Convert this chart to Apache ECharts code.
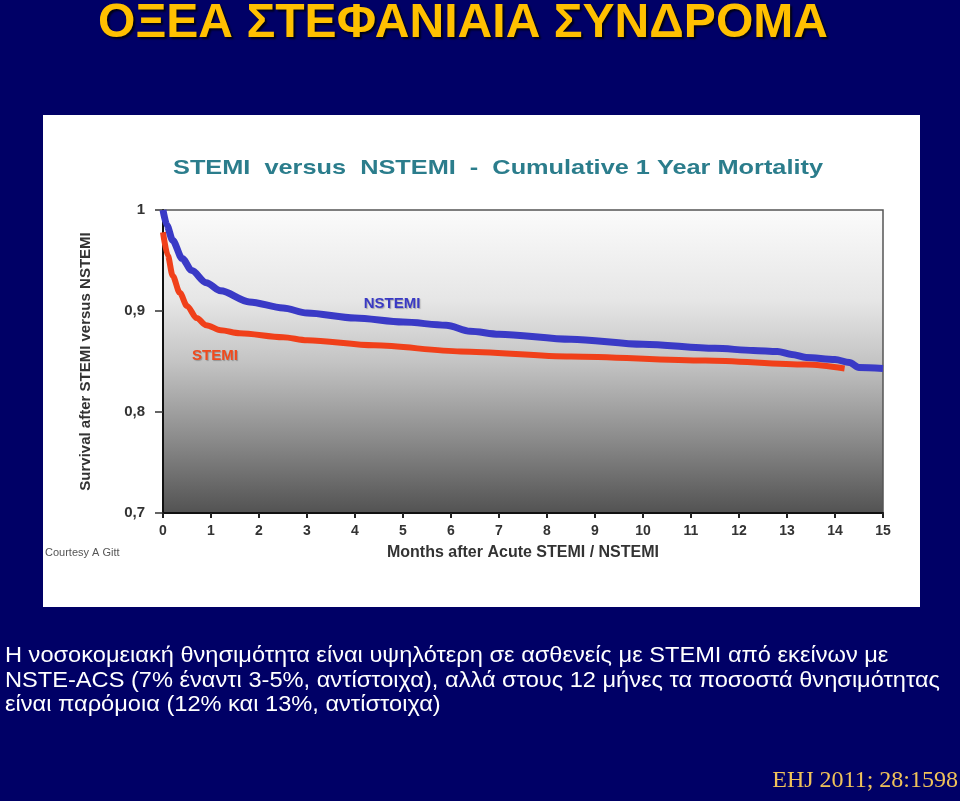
<!DOCTYPE html>
<html>
<head>
<meta charset="utf-8">
<script src="https://cdn.jsdelivr.net/npm/echarts@6/dist/echarts.min.js"></script>
<style>html,body{margin:0;padding:0;background:#000066;}#c{width:960px;height:801px;}</style>
</head>
<body>
<div id="c"></div>
<script>
// ---- data ----
const nstemiMonths   = [0, 0.08, 0.2, 0.4, 0.6, 0.9, 1.2, 1.8, 2.5, 3.0, 4.0, 5.0, 5.9, 6.4, 7.0, 8.5, 10.0, 11.5, 12.3, 12.8, 13.1, 13.4, 14.0, 14.3, 14.5, 15.0];
const nstemiSurvival = [1.0, 0.985, 0.970, 0.952, 0.940, 0.928, 0.920, 0.909, 0.903, 0.898, 0.893, 0.889, 0.886, 0.880, 0.877, 0.872, 0.867, 0.863, 0.861, 0.860, 0.857, 0.854, 0.852, 0.849, 0.844, 0.843];
const stemiMonths    = [0, 0.1, 0.2, 0.35, 0.5, 0.7, 0.9, 1.2, 1.6, 2.5, 3.0, 4.4, 6.2, 8.5, 11.3, 13.4, 14.2];
const stemiSurvival  = [0.978, 0.955, 0.935, 0.918, 0.905, 0.893, 0.886, 0.881, 0.878, 0.874, 0.871, 0.866, 0.860, 0.855, 0.851, 0.847, 0.843];

const slideTitle = 'ΟΞΕΑ ΣΤΕΦΑΝΙΑΙΑ ΣΥΝΔΡΟΜΑ';
const chartTitle = 'STEMI  versus  NSTEMI  -  Cumulative 1 Year Mortality';
const yAxisName = 'Survival after STEMI versus NSTEMI';
const xAxisName = 'Months after Acute STEMI / NSTEMI';
const courtesy = 'Courtesy A Gitt';
const bodyLines = [
  'Η νοσοκομειακή θνησιμότητα είναι υψηλότερη σε ασθενείς με STEMI από εκείνων με',
  'NSTE-ACS (7% έναντι 3-5%, αντίστοιχα), αλλά στους 12 μήνες τα ποσοστά θνησιμότητας',
  'είναι παρόμοια (12% και 13%, αντίστοιχα)'
];
const citation = 'EHJ 2011; 28:1598';

const ctx = document.createElement('canvas').getContext('2d');
function measure(text, font){ ctx.font = font; return ctx.measureText(text).width; }

const titleFont = 'bold 48px "Liberation Sans", Arial, sans-serif';
const titleScale = 730 / measure(slideTitle, titleFont);
const chartTitleFont = 'bold 21px "Liberation Sans", Arial, sans-serif';
const chartTitleScale = 650 / measure(chartTitle, chartTitleFont);
const bodyFont = '22px "Liberation Sans", Arial, sans-serif';
const bodyScale = 935 / measure(bodyLines[1], bodyFont);

const zip = (xs, ys) => xs.map((x, i) => [x, ys[i]]);

const chart = echarts.init(document.getElementById('c'), null, {renderer: 'canvas'});

const graphics = [
  {type: 'rect', z: -10, shape: {x: 43, y: 115, width: 877, height: 492}, style: {fill: '#ffffff'}},
  {type: 'text', x: 98, y: 24, scaleX: titleScale, style: {text: slideTitle, font: titleFont, fill: '#ffc000', verticalAlign: 'middle', textAlign: 'left', textShadowColor: 'rgba(0,0,0,0.8)', textShadowOffsetX: 2, textShadowOffsetY: 2, textShadowBlur: 2}},
  {type: 'text', x: 173, y: 168, scaleX: chartTitleScale, style: {text: chartTitle, font: chartTitleFont, fill: '#2b7d8c', verticalAlign: 'middle', textAlign: 'left'}},
  {type: 'text', x: 45, y: 553, style: {text: courtesy, font: '11px "Liberation Sans", Arial, sans-serif', fill: '#555555', verticalAlign: 'middle'}},
  {type: 'text', x: 392, y: 304, style: {text: 'NSTEMI', font: 'bold 15px "Liberation Sans", Arial, sans-serif', fill: '#3a3ac4', textAlign: 'center', verticalAlign: 'middle', textShadowColor: 'rgba(0,0,0,0.25)', textShadowOffsetX: 1, textShadowOffsetY: 1, textShadowBlur: 1}},
  {type: 'text', x: 215, y: 356, style: {text: 'STEMI', font: 'bold 15px "Liberation Sans", Arial, sans-serif', fill: '#f04a1e', textAlign: 'center', verticalAlign: 'middle', textShadowColor: 'rgba(0,0,0,0.25)', textShadowOffsetX: 1, textShadowOffsetY: 1, textShadowBlur: 1}},
  {type: 'text', right: 2, top: 769, style: {text: citation, font: '24px "Liberation Serif", "Times New Roman", serif', fill: '#efc25a'}}
];
bodyLines.forEach((line, i) => {
  graphics.push({type: 'text', x: 5, y: 656 + i * 24.5, scaleX: bodyScale, style: {text: line, font: bodyFont, fill: '#ffffff', verticalAlign: 'middle', textAlign: 'left'}});
});

chart.setOption({
  backgroundColor: '#000066',
  animation: false,
  graphic: graphics,
  grid: {
    left: 163, top: 210, width: 720, height: 303,
    show: true,
    borderColor: '#555555', borderWidth: 1.5,
    backgroundColor: {type: 'linear', x: 0, y: 0, x2: 0, y2: 1, colorStops: [
      {offset: 0, color: '#fbfbfb'}, {offset: 0.3, color: '#e6e6e6'}, {offset: 0.5, color: '#c4c4c4'},
      {offset: 0.75, color: '#8c8c8c'}, {offset: 1, color: '#525252'}]}
  },
  xAxis: {
    type: 'value', min: 0, max: 15, interval: 1,
    name: xAxisName, nameLocation: 'middle', nameGap: 32,
    nameTextStyle: {color: '#333333', fontSize: 16, fontWeight: 'bold', fontFamily: '"Liberation Sans", Arial, sans-serif'},
    axisLine: {lineStyle: {color: '#111111', width: 2}},
    axisTick: {show: true, length: 5, lineStyle: {color: '#222222', width: 2}},
    axisLabel: {color: '#333333', fontSize: 14, fontWeight: 'bold', margin: 11, fontFamily: '"Liberation Sans", Arial, sans-serif'},
    splitLine: {show: false}
  },
  yAxis: {
    type: 'value', min: 0.7, max: 1, interval: 0.1,
    name: yAxisName, nameLocation: 'middle', nameGap: 70, nameRotate: 90,
    nameTextStyle: {color: '#333333', fontSize: 15, fontWeight: 'bold', fontFamily: '"Liberation Sans", Arial, sans-serif'},
    axisLine: {show: true, lineStyle: {color: '#111111', width: 2}},
    axisTick: {show: true, length: 8, lineStyle: {color: '#333333', width: 1.5}},
    axisLabel: {color: '#333333', fontSize: 15, fontWeight: 'bold', margin: 18, fontFamily: '"Liberation Sans", Arial, sans-serif',
      formatter: v => Math.abs(v - 1) < 1e-9 ? '1' : v.toFixed(1).replace('.', ',')},
    splitLine: {show: false}
  },
  series: [
    {name: 'STEMI', type: 'line', data: zip(stemiMonths, stemiSurvival), showSymbol: false, smooth: 0.3, smoothMonotone: 'x',
     lineStyle: {color: '#f0401a', width: 6}, z: 3},
    {name: 'NSTEMI', type: 'line', data: zip(nstemiMonths, nstemiSurvival), showSymbol: false, smooth: 0.3, smoothMonotone: 'x',
     lineStyle: {color: '#3a3ac6', width: 7}, z: 4}
  ]
});
</script>
</body>
</html>
